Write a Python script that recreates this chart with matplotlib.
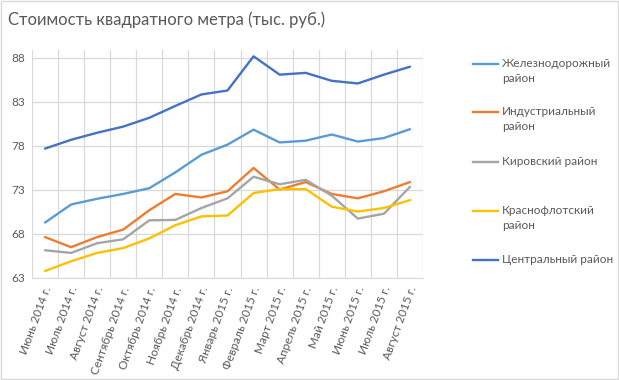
import matplotlib
matplotlib.use("Agg")
import matplotlib.pyplot as plt
from matplotlib.lines import Line2D
import matplotlib.transforms as mtransforms

months = ["Июнь 2014 г.", "Июль 2014 г.", "Август 2014 г.", "Сентябрь 2014 г.",
          "Октябрь 2014 г.", "Ноябрь 2014 г.", "Декабрь 2014 г.", "Январь 2015 г.",
          "Февраль 2015 г.", "Март 2015 г.", "Апрель 2015 г.", "Май 2015 г.",
          "Июнь 2015 г.", "Июль 2015 г.", "Август 2015 г."]

zheleznodorozhny = [69.3, 71.35, 72.0, 72.55, 73.2, 75.0, 77.0, 78.15, 79.85, 78.4, 78.6, 79.3, 78.5, 78.9, 79.9]
industrialny = [67.65, 66.5, 67.65, 68.5, 70.7, 72.55, 72.15, 72.85, 75.5, 73.05, 73.9, 72.55, 72.05, 72.85, 73.9]
kirovsky = [66.15, 65.85, 66.95, 67.4, 69.55, 69.6, 70.95, 72.05, 74.5, 73.65, 74.15, 72.35, 69.75, 70.3, 73.35]
krasnoflotsky = [63.8, 64.9, 65.85, 66.4, 67.5, 69.0, 70.0, 70.1, 72.65, 73.1, 73.1, 71.1, 70.55, 70.95, 71.85]
tsentralny = [77.7, 78.7, 79.5, 80.2, 81.2, 82.55, 83.85, 84.3, 88.18, 86.1, 86.3, 85.4, 85.1, 86.1, 87.0]

series = [zheleznodorozhny, industrialny, kirovsky, krasnoflotsky, tsentralny]
labels = ["Железнодорожный\nрайон", "Индустриальный\nрайон", "Кировский район",
          "Краснофлотский\nрайон", "Центральный район"]
colors = ["#5B9BD5", "#ED7D31", "#A5A5A5", "#FFC000", "#4472C4"]
yticks = [63, 68, 73, 78, 83, 88]
title = "Стоимость квадратного метра (тыс. руб.)"

plt.rcParams['font.family'] = ['Lato', 'DejaVu Sans']
W, H = 619, 380
fig = plt.figure(figsize=(W / 100, H / 100), dpi=100)

def fx(x): return x / W
def fy(y): return 1 - y / H

# chart border
fig.add_artist(plt.Rectangle((fx(0.5), fy(378.5)), fx(617), 377.5 / H, fill=False,
                             edgecolor="#D9D9D9", linewidth=1.0, transform=fig.transFigure))

ax = fig.add_axes([fx(32), fy(278), fx(423) - fx(32), (278 - 50) / H])
n = len(months)
x = list(range(n))
for s, c in zip(series, colors):
    ax.plot(x, s, color=c, linewidth=1.7, solid_joinstyle='round', solid_capstyle='round', zorder=3)

ax.set_xlim(-0.5, n - 0.5)
ax.set_ylim(63, 88.9)
ax.set_yticks(yticks)
ax.set_yticklabels([str(v) for v in yticks])
ax.set_xticks(x)
ax.set_xticklabels(months)
ax.grid(False)
for v in yticks:
    ax.axhline(v, color="#D9D9D9", linewidth=0.9, zorder=1)
for i in range(n + 1):
    ax.axvline(i - 0.5, color="#D9D9D9", linewidth=0.9, zorder=1)
for sp in ax.spines.values():
    sp.set_visible(False)
ax.spines['bottom'].set_visible(True)
ax.spines['bottom'].set_color("#D9D9D9")
ax.tick_params(axis='both', which='both', length=0, colors="#595959", labelsize=8.5)
ax.tick_params(axis='y', pad=5)
offset = mtransforms.ScaledTranslation(3 / 100, -4 / 100, fig.dpi_scale_trans)
for lbl in ax.get_xticklabels():
    lbl.set_rotation(70)
    lbl.set_ha('right')
    lbl.set_va('center')
    lbl.set_rotation_mode('anchor')
    lbl.set_transform(lbl.get_transform() + offset)

fig.text(fx(8), fy(20), title, fontsize=12, color="#595959", ha='left', va='center')

legend_y = [64, 112, 162, 211, 260]
for yy, lab, c in zip(legend_y, labels, colors):
    fig.add_artist(Line2D([fx(473), fx(498)], [fy(yy), fy(yy)], color=c, linewidth=1.7,
                          transform=fig.transFigure))
    fig.text(fx(502), fy(yy - 6), lab, fontsize=8.5, color="#595959", ha='left', va='top',
             linespacing=1.45)

fig.savefig("out.png", dpi=100)
